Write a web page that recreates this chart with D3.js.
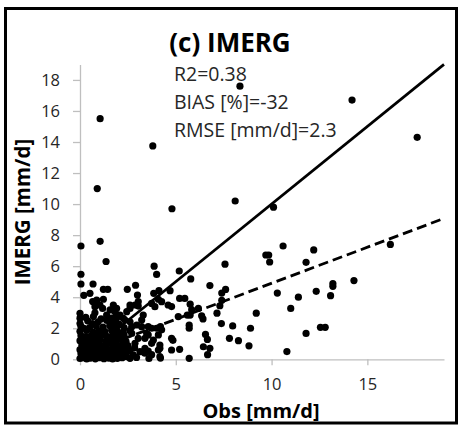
<!DOCTYPE html>
<html>
<head>
<meta charset="utf-8">
<script src="https://cdn.jsdelivr.net/npm/d3@7"></script>
<style>
  body { margin: 0; background: #fff; }
  svg { display: block; }
</style>
</head>
<body>
<div id="chart"></div>
<script>
// axis ticks and annotation text
const xTicks = [0, 5, 10, 15];
const yTicks = [0, 2, 4, 6, 8, 10, 12, 14, 16, 18];
const statLines = ["R2=0.38", "BIAS [%]=-32", "RMSE [mm/d]=2.3"];

// regression line (dashed) and 1:1 line (solid)
const fitSlope = 0.464, fitIntercept = 0.26;
const lineEnds = [0, 19];

// [obs, imerg] in mm/d
const highPoints = [
  [8.35, 17.6], [14.2, 16.7], [17.6, 14.3], [1.05, 15.5], [3.8, 13.75], [0.9, 11.0],
  [4.8, 9.7], [8.1, 10.2], [10.1, 9.8], [0.05, 7.3], [1.05, 7.6], [10.6, 7.3],
  [12.2, 7.05], [16.2, 7.4], [9.7, 6.72], [9.85, 6.72], [9.9, 6.27], [1.36, 6.3],
  [3.87, 6.0], [7.57, 6.13], [11.8, 6.25], [0.05, 5.48], [4.0, 5.47], [5.18, 5.69],
  [5.78, 5.18], [14.3, 5.07], [13.2, 4.88], [13.2, 4.7], [12.33, 4.38], [10.3, 4.27],
  [11.4, 4.0], [13.08, 4.1], [11.0, 3.28], [9.2, 2.97], [8.9, 2.0], [7.97, 2.15],
  [12.55, 2.06], [12.8, 2.06], [11.8, 1.67], [7.8, 1.35], [8.27, 1.2], [8.82, 0.87],
  [10.8, 0.5]
];

const midPoints = [
  [0.05, 4.85], [0.68, 4.85], [2.9, 4.77], [6.78, 4.75], [2.47, 4.51], [1.22, 4.51],
  [1.45, 4.51], [0.2, 4.12], [0.52, 4.25], [3.0, 4.14], [3.85, 4.25], [4.12, 4.42],
  [4.7, 4.42], [7.4, 4.27], [7.6, 4.5], [7.4, 3.8], [4.09, 3.87], [4.26, 3.71],
  [4.6, 3.5], [4.78, 3.4], [5.2, 3.92], [5.47, 3.92], [5.75, 3.55], [5.83, 3.2],
  [6.18, 3.28], [3.74, 3.6], [3.91, 3.39], [5.13, 2.75], [5.6, 2.85], [5.75, 2.85],
  [6.35, 2.8], [6.42, 2.6], [7.15, 2.97], [7.3, 3.45], [7.38, 2.3], [5.7, 2.2],
  [5.7, 2.0], [3.56, 2.1], [3.74, 2.0], [4.0, 2.0], [4.26, 1.9], [4.2, 2.1],
  [3.48, 1.67], [4.09, 1.57], [3.83, 1.24], [3.74, 1.03], [4.17, 0.92], [4.17, 0.71],
  [4.78, 1.35], [4.85, 1.22], [4.78, 0.6], [5.2, 0.64], [3.39, 0.39], [3.56, 0.53],
  [3.74, 0.3], [4.17, 0.17], [5.7, 0.06], [6.55, 1.6], [6.65, 1.28], [6.44, 0.81],
  [6.78, 0.71], [6.66, 0.3], [4.09, 0.6], [3.39, 0.71], [3.13, 0.49], [2.78, 0.28],
  [2.44, 0.17], [2.61, 0.06], [2.87, 1.03], [3.04, 1.35], [3.39, 1.35], [3.56, 1.57],
  [2.7, 1.67], [3.22, 2.1], [2.96, 2.21], [2.61, 2.42], [2.35, 2.53], [2.44, 3.07],
  [2.61, 3.28], [2.87, 3.5], [3.04, 3.71], [3.3, 2.85], [3.22, 2.53], [2.61, 3.5],
  [3.04, 3.43], [1.74, 3.5], [1.91, 3.28], [1.57, 3.18], [1.39, 2.85], [0.87, 3.82],
  [0.78, 3.39], [1.04, 3.5], [2.09, 2.85], [2.26, 2.64], [1.91, 2.64], [0.66, 3.72],
  [0.87, 3.6], [1.22, 3.87], [1.18, 3.28], [0.78, 3.0], [1.83, 3.07], [1.9, 2.75],
  [0.0, 2.96], [0.0, 2.65], [0.0, 2.3]
];

const clusterPoints = [
  [0.0, 0.05], [0.15, 0.1], [0.35, 0.02], [0.55, 0.08], [0.8, 0.03], [1.0, 0.1],
  [1.25, 0.04], [1.5, 0.08], [1.7, 0.02], [1.95, 0.06], [2.2, 0.1], [2.95, 0.12],
  [3.6, 0.05], [4.2, 0.08],
  [0.05, 0.35], [0.3, 0.28], [0.6, 0.32], [0.85, 0.25], [1.1, 0.36], [1.35, 0.3],
  [1.6, 0.27], [1.85, 0.34], [2.1, 0.29], [2.35, 0.33],
  [0.0, 0.62], [0.25, 0.58], [0.5, 0.65], [0.75, 0.6], [1.0, 0.55], [1.3, 0.66],
  [1.55, 0.6], [1.8, 0.57], [2.05, 0.63], [2.3, 0.6], [2.6, 0.55],
  [0.1, 0.9], [0.35, 0.95], [0.6, 0.88], [0.9, 0.92], [1.15, 0.86], [1.4, 0.95],
  [1.7, 0.9], [1.95, 0.85], [2.2, 0.93], [2.5, 0.88], [2.85, 0.75],
  [0.0, 1.2], [0.25, 1.25], [0.55, 1.18], [0.8, 1.22], [1.05, 1.28], [1.35, 1.15],
  [1.6, 1.24], [1.9, 1.2], [2.15, 1.27], [2.4, 1.16],
  [0.05, 1.52], [0.3, 1.46], [0.6, 1.55], [0.9, 1.5], [1.2, 1.58], [1.45, 1.47],
  [1.75, 1.54], [2.0, 1.45], [2.3, 1.56],
  [0.0, 1.8], [0.35, 1.86], [0.7, 1.76], [1.0, 1.84], [1.3, 1.78], [1.65, 1.87],
  [1.95, 1.8], [2.25, 1.75], [2.6, 1.85],
  [0.05, 2.12], [0.5, 2.05], [0.85, 2.15], [1.2, 2.08], [1.55, 2.16], [1.9, 2.1],
  [2.3, 2.04], [2.7, 2.1],
  [0.4, 2.48], [0.95, 2.42], [1.4, 2.5], [1.85, 2.4], [0.7, 2.75], [1.1, 2.6],
  [0.2, 2.0], [0.65, 2.3], [1.6, 2.35], [2.05, 2.25], [0.3, 2.7], [1.65, 2.65]
];

const points = highPoints.concat(midPoints, clusterPoints);

const W = 459, H = 426;
const margin = {top: 64.4, right: 15, bottom: 66.7, left: 80};
const width = W - margin.left - margin.right,
      height = H - margin.top - margin.bottom;
const font = "'Open Sans', sans-serif";

const svg = d3.select("#chart").append("svg")
    .attr("width", W)
    .attr("height", H);

// outer frame
svg.append("rect")
    .attr("x", 5.5).attr("y", 8.5)
    .attr("width", 451).attr("height", 414.5)
    .attr("fill", "none")
    .attr("stroke", "#000")
    .attr("stroke-width", 3);

const g = svg.append("g")
    .attr("transform", `translate(${margin.left},${margin.top})`);

const x = d3.scaleLinear().domain([0, 19]).range([0, width]);
const y = d3.scaleLinear().domain([0, 19]).range([height, 0]);

// axes
const xAxis = g.append("g")
    .attr("transform", `translate(0,${height})`)
    .call(d3.axisBottom(x).tickValues(xTicks).tickSizeInner(6).tickSizeOuter(0).tickPadding(13));
const yAxis = g.append("g")
    .call(d3.axisLeft(y).tickValues(yTicks).tickSizeInner(7).tickSizeOuter(0).tickPadding(13));

[xAxis, yAxis].forEach(a => {
  a.select(".domain").attr("stroke", "#bfbfbf").attr("stroke-width", 1.3);
  a.selectAll(".tick line").attr("stroke", "#bfbfbf").attr("stroke-width", 1.3);
  a.selectAll(".tick text")
    .attr("fill", "#262626")
    .style("font-family", font)
    .style("font-size", "16.5px");
});

// points
g.append("g").selectAll("circle")
  .data(points)
  .join("circle")
    .attr("cx", d => x(d[0]))
    .attr("cy", d => y(d[1]))
    .attr("r", 3.6)
    .attr("fill", "#000");

// 1:1 line
g.append("path")
    .datum(lineEnds)
    .attr("fill", "none")
    .attr("stroke", "#000")
    .attr("stroke-width", 2.7)
    .attr("d", d3.line().x(d => x(d)).y(d => y(d)));

// regression line
g.append("path")
    .datum(lineEnds)
    .attr("fill", "none")
    .attr("stroke", "#000")
    .attr("stroke-width", 2.8)
    .attr("stroke-dasharray", "10,5")
    .attr("d", d3.line().x(d => x(d)).y(d => y(fitIntercept + fitSlope * d)));

// title
svg.append("text")
    .attr("x", 230).attr("y", 52)
    .attr("text-anchor", "middle")
    .style("font-family", font)
    .style("font-size", "26px")
    .style("font-weight", "bold")
    .text("(c) IMERG");

// stats block
svg.append("g").selectAll("text")
  .data(statLines)
  .join("text")
    .attr("x", 174)
    .attr("y", (d, i) => 81 + i * 28)
    .style("font-family", font)
    .style("font-size", "19.5px")
    .attr("fill", "#262626")
    .text(d => d);

// axis titles
svg.append("text")
    .attr("x", 261).attr("y", 417.5)
    .attr("text-anchor", "middle")
    .style("font-family", font)
    .style("font-size", "20px")
    .style("font-weight", "bold")
    .text("Obs [mm/d]");

svg.append("text")
    .attr("transform", "rotate(-90)")
    .attr("x", -212).attr("y", 30)
    .attr("text-anchor", "middle")
    .style("font-family", font)
    .style("font-size", "20.5px")
    .style("font-weight", "bold")
    .text("IMERG [mm/d]");
</script>
</body>
</html>
